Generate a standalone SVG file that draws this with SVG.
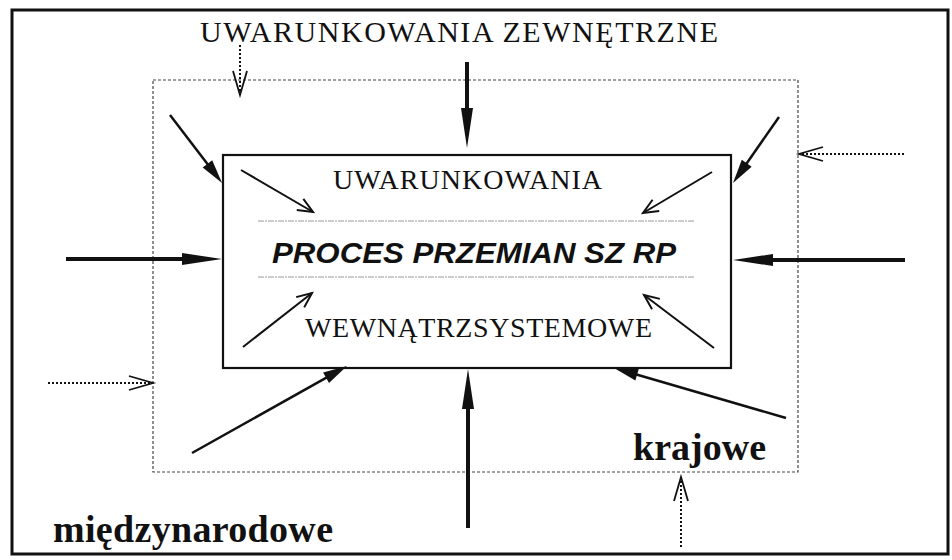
<svg xmlns="http://www.w3.org/2000/svg" width="952" height="560" viewBox="0 0 952 560">
<style>
.serif{font-family:"Liberation Serif","Times New Roman",serif;fill:#111}
.sans{font-family:"Liberation Sans",Arial,sans-serif;fill:#111}
.thick{stroke:#111;stroke-width:4;fill:none}
.diag{stroke:#111;stroke-width:2.5;fill:none}
.thin{stroke:#111;stroke-width:2;fill:none}
.dot{stroke:#111;stroke-width:2;stroke-dasharray:2 2;fill:none}
.zone{stroke:#444;stroke-width:1.2;stroke-dasharray:3 2;fill:none}
.sep{stroke:#999;stroke-width:1;stroke-dasharray:6 1 2 1}
</style>
<defs>
<marker id="m-thick" markerUnits="userSpaceOnUse" markerWidth="42" markerHeight="16" refX="10" refY="7" orient="auto" overflow="visible">
<path d="M0,1 L40,7 L0,13 Z" fill="#111"/>
</marker>
<marker id="m-fill" markerUnits="userSpaceOnUse" markerWidth="26" markerHeight="14" refX="6" refY="6" orient="auto" overflow="visible">
<path d="M0,0 L24,6 L0,12 Z" fill="#111"/>
</marker>
<marker id="m-open" markerUnits="userSpaceOnUse" markerWidth="18" markerHeight="14" refX="15" refY="6.5" orient="auto" overflow="visible">
<path d="M0,0 L15,6.5 L0,13" fill="none" stroke="#111" stroke-width="2"/>
</marker>
<marker id="m-v" markerUnits="userSpaceOnUse" markerWidth="26" markerHeight="16" refX="24" refY="7" orient="auto" overflow="visible">
<path d="M0,0 L24,7 L0,14" fill="none" stroke="#111" stroke-width="1.8"/>
</marker>
</defs>
<rect width="952" height="560" fill="#fff"/>
<g id="frame">
<rect x="12" y="10" width="936" height="544" fill="none" stroke="#111" stroke-width="3"/>
<text class="serif" x="200" y="42" font-size="30" textLength="518" lengthAdjust="spacing">UWARUNKOWANIA  ZEWNĘTRZNE</text>
<text class="serif" x="53" y="542" font-size="38" font-weight="bold" textLength="280" lengthAdjust="spacing">międzynarodowe</text>
</g>
<g id="zone-krajowe">
<rect x="153" y="80" width="645" height="392" class="zone"/>
<text class="serif" x="633" y="460" font-size="38" font-weight="bold" textLength="133" lengthAdjust="spacing">krajowe</text>
</g>
<g id="process">
<rect x="223" y="155" width="508" height="213" fill="none" stroke="#111" stroke-width="2.2"/>
<text class="serif" x="333" y="189" font-size="28" textLength="269" lengthAdjust="spacing">UWARUNKOWANIA</text>
<line x1="258" y1="221" x2="695" y2="221" class="sep"/>
<text class="sans" x="272" y="263" font-size="30" font-weight="bold" font-style="italic" textLength="404" lengthAdjust="spacingAndGlyphs">PROCES PRZEMIAN SZ RP</text>
<line x1="258" y1="277" x2="695" y2="277" class="sep"/>
<text class="serif" x="305" y="337" font-size="28" textLength="347" lengthAdjust="spacing">WEWNĄTRZSYSTEMOWE</text>
</g>
<g id="connectors">
<line x1="467" y1="62" x2="467" y2="118" class="thick" marker-end="url(#m-thick)"/>
<line x1="66" y1="259" x2="192" y2="259" class="thick" marker-end="url(#m-thick)"/>
<line x1="905" y1="260" x2="763" y2="260" class="thick" marker-end="url(#m-thick)"/>
<line x1="468" y1="528" x2="468" y2="399" class="thick" marker-end="url(#m-thick)"/>
<line x1="170" y1="115" x2="211.1" y2="168.7" class="diag" marker-end="url(#m-fill)"/>
<line x1="779" y1="117" x2="743.3" y2="168.2" class="diag" marker-end="url(#m-fill)"/>
<line x1="192" y1="453" x2="331.3" y2="374.8" class="diag" marker-end="url(#m-fill)"/>
<line x1="786" y1="418" x2="631.3" y2="373" class="diag" marker-end="url(#m-fill)"/>
<line x1="241" y1="170" x2="313" y2="212" class="thin" marker-end="url(#m-open)"/>
<line x1="712" y1="172" x2="643" y2="213" class="thin" marker-end="url(#m-open)"/>
<line x1="243" y1="347" x2="312" y2="293" class="thin" marker-end="url(#m-open)"/>
<line x1="714" y1="348" x2="644" y2="295" class="thin" marker-end="url(#m-open)"/>
<line x1="240" y1="45" x2="240" y2="95" class="dot" marker-end="url(#m-v)"/>
<line x1="904" y1="154" x2="799" y2="154" class="dot" marker-end="url(#m-v)"/>
<line x1="48" y1="383" x2="153" y2="383" class="dot" marker-end="url(#m-v)"/>
<line x1="681" y1="547" x2="681" y2="477" class="dot" marker-end="url(#m-v)"/>
</g>
</svg>
